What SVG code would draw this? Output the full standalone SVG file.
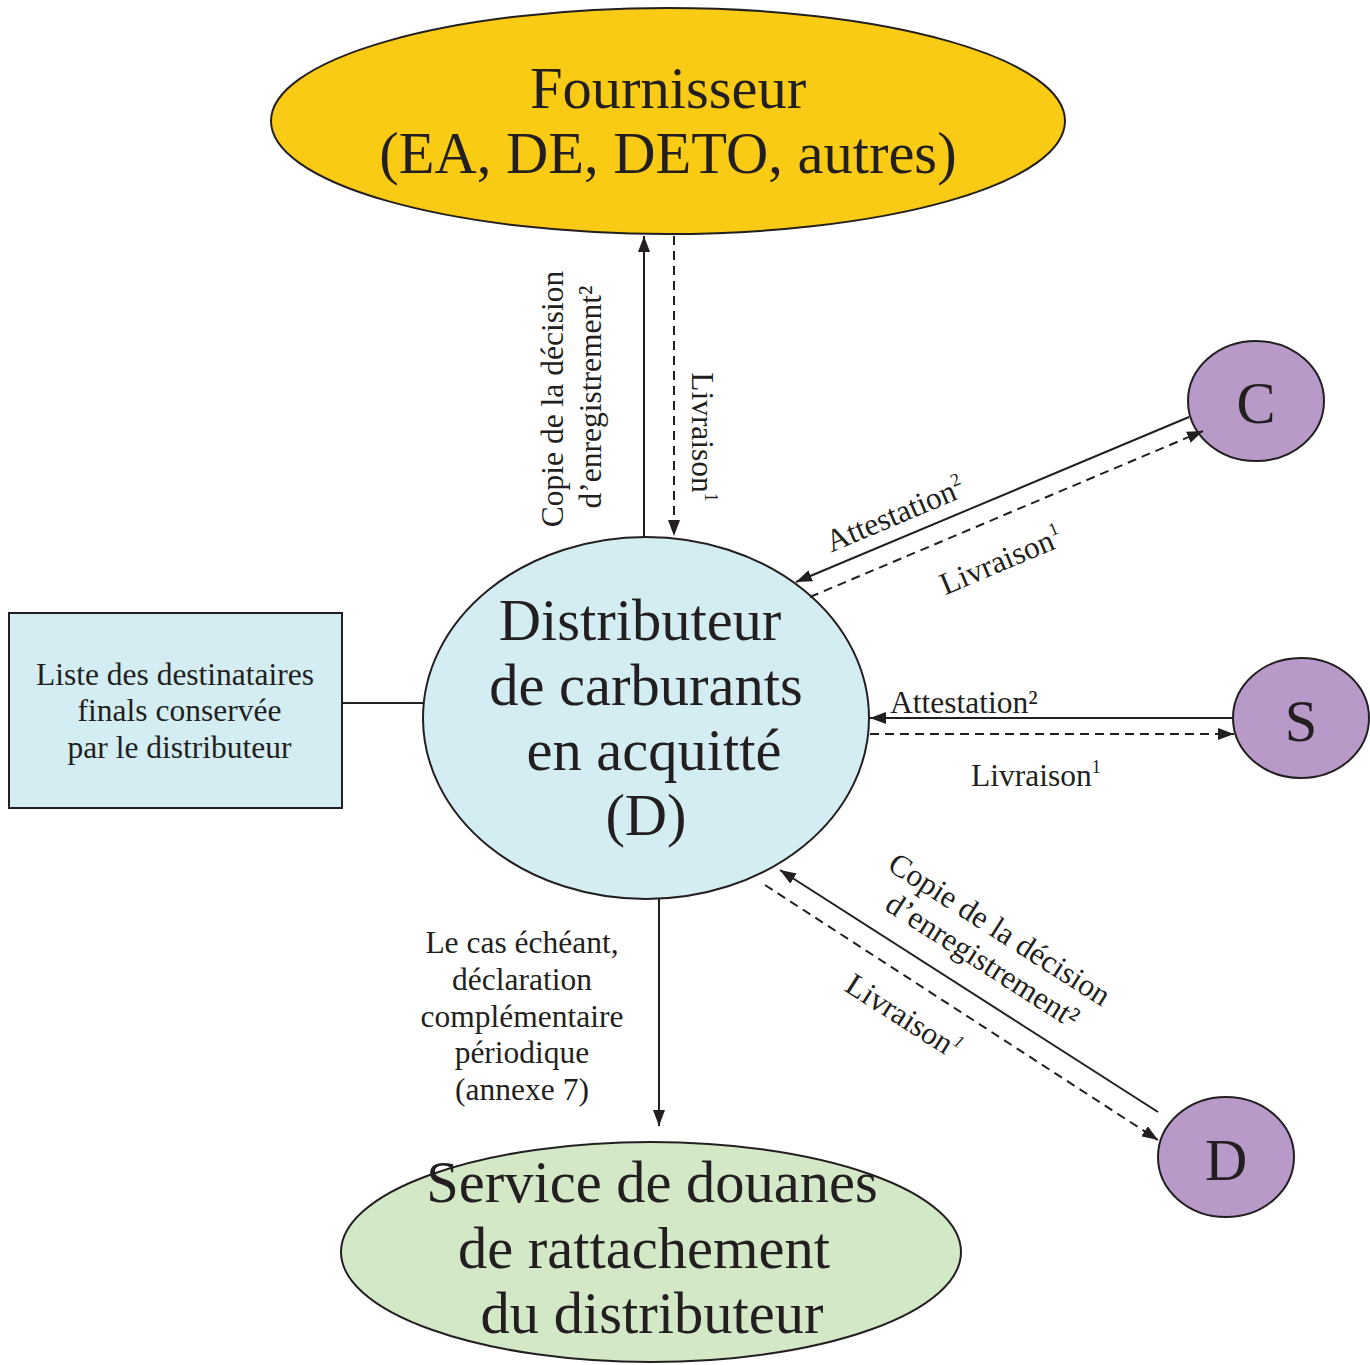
<svg xmlns="http://www.w3.org/2000/svg" width="1370" height="1365" viewBox="0 0 1370 1365">
<style>
text{font-family:"Liberation Serif","Times New Roman",serif;fill:#231f20}
.big{font-size:58.5px}
.sm{font-size:31.5px}
.sup{font-size:18px}
.node{stroke:#231f20;stroke-width:2}
.c{stroke:#231f20;stroke-width:2;fill:none}
.d{stroke-dasharray:9 6}
</style>
<defs>
<marker id="a" viewBox="0 0 16 12" refX="16" refY="6" markerWidth="16" markerHeight="12" markerUnits="userSpaceOnUse" orient="auto">
<path d="M0,0 L16,6 L0,12 z" fill="#231f20"/>
</marker>
</defs>
<g id="fournisseur">
<ellipse class="node" cx="668" cy="121" rx="397" ry="113" fill="#F9CB14"/>
<text class="big" x="668" y="108" text-anchor="middle">Fournisseur</text>
<text class="big" x="668" y="173" text-anchor="middle">(EA, DE, DETO, autres)</text>
</g>
<g id="distributeur">
<ellipse class="node" cx="646" cy="718" rx="223" ry="181" fill="#D3EDF3"/>
<text class="big" x="640" y="640" text-anchor="middle">Distributeur</text>
<text class="big" x="646" y="705" text-anchor="middle">de carburants</text>
<text class="big" x="654" y="770" text-anchor="middle">en acquitté</text>
<text class="big" x="646" y="835" text-anchor="middle">(D)</text>
</g>
<g id="liste">
<rect class="node" x="9" y="613" width="333" height="195" fill="#D3EDF3"/>
<text class="sm" x="175" y="685" text-anchor="middle">Liste des destinataires</text>
<text class="sm" x="179.5" y="721" text-anchor="middle">finals conservée</text>
<text class="sm" x="179.5" y="758" text-anchor="middle">par le distributeur</text>
</g>
<g id="C">
<ellipse class="node" cx="1256" cy="401" rx="68" ry="60" fill="#B79AC8"/>
<text class="big" x="1256" y="423" text-anchor="middle" font-size="64">C</text>
</g>
<g id="S">
<ellipse class="node" cx="1301" cy="718" rx="68" ry="60" fill="#B79AC8"/>
<text class="big" x="1301" y="741" text-anchor="middle" font-size="64">S</text>
</g>
<g id="D">
<ellipse class="node" cx="1226" cy="1157" rx="68" ry="60" fill="#B79AC8"/>
<text class="big" x="1226" y="1180" text-anchor="middle" font-size="64">D</text>
</g>
<g id="service">
<ellipse class="node" cx="651" cy="1252" rx="310" ry="110" fill="#D3E8C7"/>
<text class="big" x="652" y="1202" text-anchor="middle">Service de douanes</text>
<text class="big" x="644" y="1268" text-anchor="middle">de rattachement</text>
<text class="big" x="652" y="1333" text-anchor="middle">du distributeur</text>
</g>
<g id="connectors">
<line class="c" x1="342" y1="703" x2="423" y2="703"/>
<line class="c" x1="644" y1="537" x2="644" y2="236" marker-end="url(#a)"/>
<line class="c d" x1="674" y1="236" x2="674" y2="536" marker-end="url(#a)"/>
<line class="c" x1="1189" y1="417" x2="796" y2="582" marker-end="url(#a)"/>
<line class="c d" x1="810" y1="597" x2="1203" y2="431" marker-end="url(#a)"/>
<line class="c" x1="1234" y1="718" x2="870" y2="718" marker-end="url(#a)"/>
<line class="c d" x1="870" y1="734" x2="1234" y2="734" marker-end="url(#a)"/>
<line class="c" x1="1158" y1="1112" x2="780" y2="870" marker-end="url(#a)"/>
<line class="c d" x1="765" y1="885" x2="1158" y2="1140" marker-end="url(#a)"/>
<line class="c" x1="659" y1="899" x2="659" y2="1126" marker-end="url(#a)"/>
</g>
<g id="labels">
<text class="sm" transform="translate(563,399) rotate(-90)" text-anchor="middle">Copie de la décision</text>
<text class="sm" transform="translate(601,397) rotate(-90)" text-anchor="middle">d’enregistrement²</text>
<text class="sm" transform="translate(692,437) rotate(90)" text-anchor="middle">Livraison<tspan class="sup" dy="-13">1</tspan></text>
<text class="sm" transform="translate(899,524) rotate(-22.8)" text-anchor="middle">Attestation<tspan class="sup" dy="-13">2</tspan></text>
<text class="sm" transform="translate(1005,570) rotate(-22.8)" text-anchor="middle">Livraison<tspan class="sup" dy="-13">1</tspan></text>
<text class="sm" x="890" y="713">Attestation²</text>
<text class="sm" x="971" y="786">Livraison<tspan class="sup" dy="-13">1</tspan></text>
<text class="sm" transform="translate(994,938) rotate(32.6)" text-anchor="middle">Copie de la décision</text>
<text class="sm" transform="translate(977,969) rotate(32.6)" text-anchor="middle">d’enregistrement²</text>
<text class="sm" transform="translate(898,1025) rotate(32.6)" text-anchor="middle">Livraison<tspan class="sup" dy="-13" font-style="italic">1</tspan></text>
<text class="sm" x="522" y="953" text-anchor="middle">Le cas échéant,</text>
<text class="sm" x="522" y="990" text-anchor="middle">déclaration</text>
<text class="sm" x="522" y="1027" text-anchor="middle">complémentaire</text>
<text class="sm" x="522" y="1063" text-anchor="middle">périodique</text>
<text class="sm" x="522" y="1100" text-anchor="middle">(annexe 7)</text>
</g>
</svg>
